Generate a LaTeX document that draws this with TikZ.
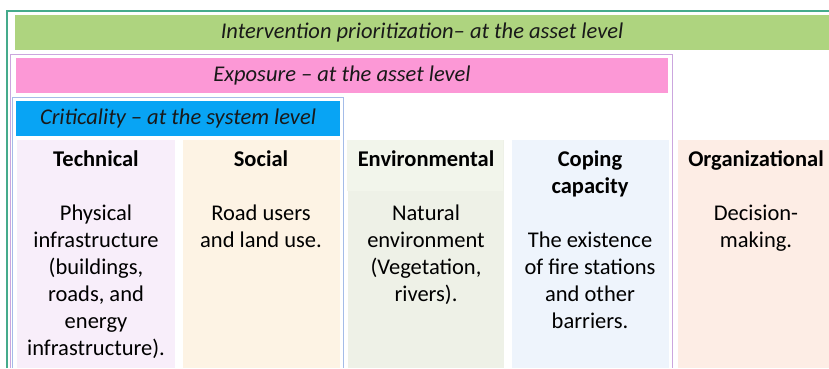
\documentclass[tikz,border=0pt]{standalone}
\usepackage{fontspec}
\setmainfont{Carlito}
\usetikzlibrary{positioning}

\definecolor{barGreen}{HTML}{AED47F}
\definecolor{barPink}{HTML}{FC98D6}
\definecolor{barBlue}{HTML}{08A4F4}
\definecolor{lineGreen}{HTML}{45AB8C}
\definecolor{linePink}{HTML}{CBA6DE}
\definecolor{lineBlue}{HTML}{A4BCE8}
\definecolor{techFill}{HTML}{F8EEFA}
\definecolor{socFill}{HTML}{FDF3E4}
\definecolor{envFill}{HTML}{EEF1E7}
\definecolor{envHead}{HTML}{F2F5EB}
\definecolor{copFill}{HTML}{EEF4FC}
\definecolor{orgFill}{HTML}{FDEDE5}
\newcommand{\coltab}[1]{\begin{tabular}[t]{@{}c@{}}#1\end{tabular}}

\begin{document}
\begin{tikzpicture}[x=1pt,y=-1pt,
  bar/.style={minimum height=35pt, inner sep=0pt, text=black!90,
    font=\fontsize{22.5}{26}\itshape},
  colbox/.style={anchor=north, minimum height=228pt, inner sep=0pt},
  coltext/.style={anchor=base, inner sep=0pt,
    font=\fontsize{22.5}{27}\selectfont}]
\useasboundingbox (0,0) rectangle (829,368);

% Rahmen
\draw[lineGreen, line width=1.2pt] (7,368) -- (7,11) -- (829,11);
\draw[linePink, line width=0.9pt] (10,368) -- (10,54) -- (672,54) -- (672,368);
\draw[lineBlue, line width=0.9pt] (12,368) -- (12,97) -- (343,97) -- (343,368);

% Balken
\node[bar, fill=barGreen, minimum width=814pt] (interv) at (422,32.5)
  {\raisebox{-1.5pt}{Intervention prioritization-- at the asset level}};
\node[bar, fill=barPink, minimum width=652pt] (expo) at (342,75)
  {\raisebox{-1.5pt}{Exposure -- at the asset level}};
\node[bar, fill=barBlue, minimum width=324pt] (crit) at (178,118.5)
  {\raisebox{-1.5pt}{Criticality -- at the system level}};

% Spalten
\node[colbox, fill=techFill, minimum width=158pt] (tech) at (96,140) {};
\node[colbox, fill=socFill, minimum width=157pt] (soc) at (261,140) {};
\node[colbox, fill=envFill, minimum width=156pt] (env) at (425.5,140) {};
\fill[envHead] (env.north west) rectangle ++(156,51);
\node[colbox, fill=copFill, minimum width=157pt] (cop) at (590,140) {};
\node[colbox, fill=orgFill, minimum width=160pt] (org) at (758,140) {};

% Texte
\node[coltext] (techtxt) at (96,166) {\coltab{\textbf{Technical}\\[27pt]
  Physical\\ infrastructure\\ (buildings,\\ roads, and\\ energy\\ infrastructure).}};
\node[coltext] (soctxt) at (261,166) {\coltab{\textbf{Social}\\[27pt]
  Road users\\ and land use.}};
\node[coltext] (envtxt) at (426,166) {\coltab{\textbf{Environmental}\\[27pt]
  Natural\\ environment\\ (Vegetation,\\ rivers).}};
\node[coltext] (coptxt) at (590,166) {\coltab{\textbf{Coping}\\ \textbf{capacity}\\[27pt]
  The existence\\ of fire stations\\ and other\\ barriers.}};
\node[coltext] (orgtxt) at (756,166) {\coltab{\textbf{Organizational}\\[27pt]
  Decision-\\ making.}};
\end{tikzpicture}
\end{document}
